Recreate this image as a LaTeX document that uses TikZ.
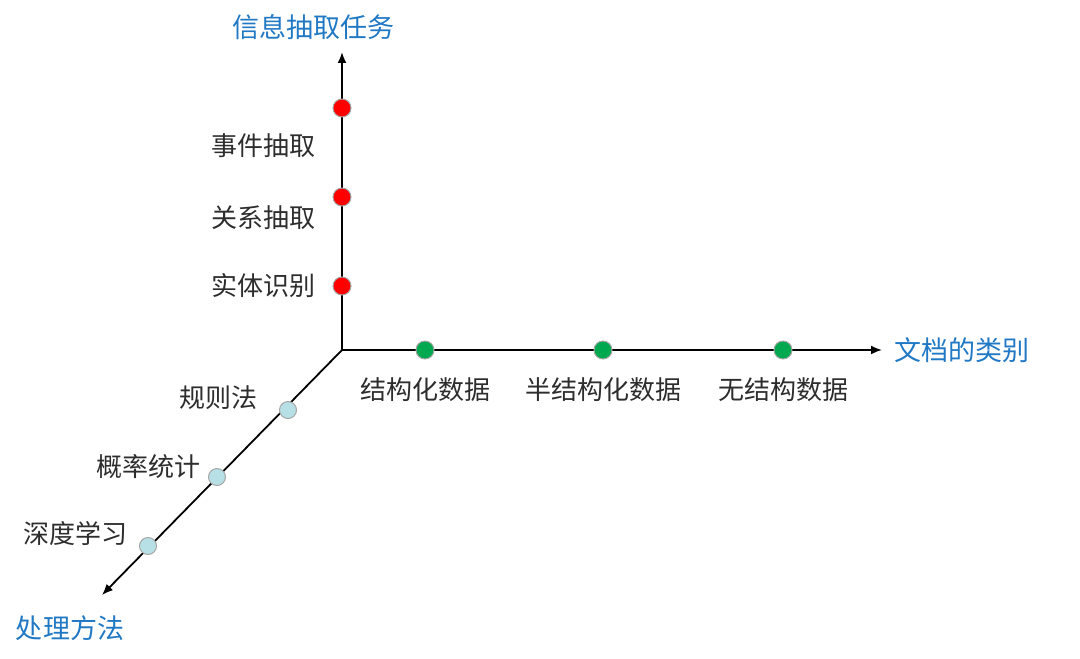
\documentclass[tikz,border=0pt]{standalone}
\usepackage{fontspec}
\setmainfont{Noto Sans CJK SC}
\usetikzlibrary{arrows.meta,positioning}
\definecolor{axisblue}{RGB}{33,120,196}
\definecolor{txtgray}{RGB}{45,45,45}
\definecolor{dotred}{RGB}{255,0,0}
\definecolor{dotgreen}{RGB}{0,168,80}
\definecolor{dotblue}{RGB}{183,224,230}

\begin{document}
\begin{tikzpicture}[x=0.5pt, y=-0.5pt,
        axis/.style={-{Latex[length=5.5pt,width=4.5pt]}, line width=0.9pt, black},
        title/.style={font=\fontsize{13.5}{16}\selectfont, text=axisblue},
        lbl/.style={font=\fontsize{13}{15}\selectfont, text=txtgray},
        dot/.style={circle, draw=gray!70, line width=0.5pt, inner sep=0pt, minimum size=9pt},
        task/.style={dot, fill=dotred},
        doc/.style={dot, fill=dotgreen},
        meth/.style={dot, fill=dotblue, minimum size=8.5pt},
    ]
        \useasboundingbox (0,0) rectangle (1080,658);

        % axes
        \coordinate (o) at (342,350);
        \coordinate (ytip) at (342,52);
        \coordinate (xtip) at (882,350);
        \coordinate (ztip) at (102,595);
        \draw[axis] (o) -- (ytip);
        \draw[axis] (o) -- (xtip);
        \draw[axis] (o) -- (ztip);

        % axis titles
        \node[title] (ttask) at (313,27) {信息抽取任务};
        \node[title] (tdoc) at (962,350) {文档的类别};
        \node[title] (tmeth) at (70,628) {处理方法};

        % information extraction tasks
        \node[task] (event) at (342,108) {};
        \node[task] (rel) at (342,197) {};
        \node[task] (ent) at (342,286) {};
        \node[lbl] at (263,146) {事件抽取};
        \node[lbl] at (263,218) {关系抽取};
        \node[lbl] at (263,286) {实体识别};

        % document types
        \node[doc] (struct) at (425,350) {};
        \node[doc] (semi) at (603,350) {};
        \node[doc] (free) at (783,350) {};
        \node[lbl] at (425,390) {结构化数据};
        \node[lbl] at (603,390) {半结构化数据};
        \node[lbl] at (783,390) {无结构数据};

        % methods
        \node[meth] (rule) at (288,410) {};
        \node[meth] (prob) at (217,477) {};
        \node[meth] (deep) at (148,546) {};
        \node[lbl] at (218,398) {规则法};
        \node[lbl] at (148,467) {概率统计};
        \node[lbl] at (75,533) {深度学习};
    \end{tikzpicture}
\end{document}
